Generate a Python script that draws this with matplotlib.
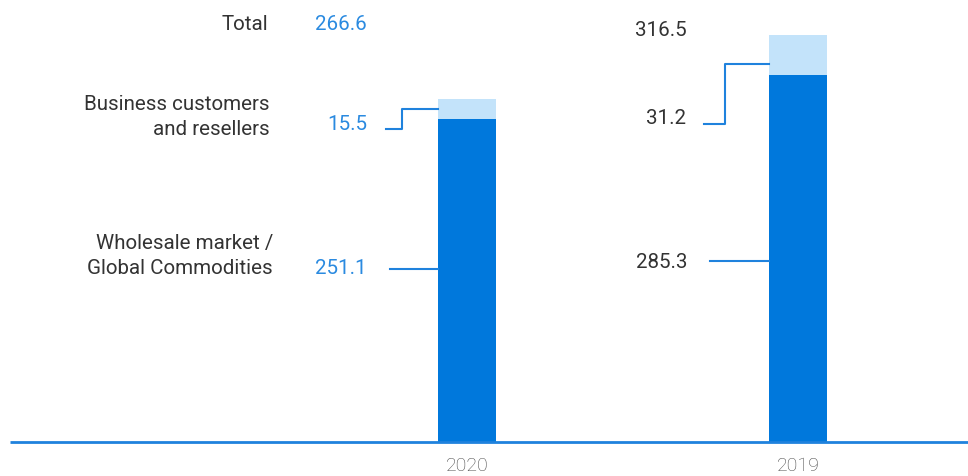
import matplotlib.pyplot as plt

# data
years = ["2020", "2019"]
wholesale = [251.1, 285.3]
business = [15.5, 31.2]
totals = [266.6, 316.5]
row_labels = ["Total", "Business customers\nand resellers", "Wholesale market /\nGlobal Commodities"]

dark = "#0078dc"
light = "#c3e3fa"
line_c = "#1f82dd"
blue_txt = "#2a8ae0"
grey_txt = "#333333"

W, H = 968, 477
fig = plt.figure(figsize=(W / 100, H / 100), dpi=100)
plt.rcParams['font.family'] = ['Roboto', 'DejaVu Sans']

# axes: baseline at y=443 px, 1.287 px per unit
base_px = 443
ppu = 1.287
ax = fig.add_axes([0, (H - base_px) / H, 1, base_px / H])
ax.set_ylim(0, base_px / ppu)
xu = 331.0  # px per category step
ax.set_xlim(-467 / xu, (W - 467) / xu)
ax.axis("off")

def px(x):
    return (x - 467) / xu

def py(y):
    return (base_px - y) / ppu

x = [0, 1]
bw = 58 / xu
ax.bar(x, wholesale, width=bw, color=dark, zorder=2)
ax.bar(x, business, bottom=wholesale, width=bw, color=light, zorder=2)

# baseline
ax.plot([px(10), px(968)], [0, 0], color=line_c, lw=2, solid_capstyle="butt", clip_on=False)

fs = 14.8

# row labels
ax.text(px(268), py(24), row_labels[0], ha="right", va="center", fontsize=fs, color=grey_txt)
ax.text(px(270), py(117), row_labels[1], ha="right", va="center", fontsize=fs, color=grey_txt, linespacing=1.4)
ax.text(px(273), py(256), row_labels[2], ha="right", va="center", fontsize=fs, color=grey_txt, linespacing=1.4)

# 2020 values (blue)
ax.text(px(367), py(24), f"{totals[0]:.1f}", ha="right", va="center", fontsize=fs, color=blue_txt)
ax.text(px(367), py(124), f"{business[0]:.1f}", ha="right", va="center", fontsize=fs, color=blue_txt)
ax.text(px(367), py(268), f"{wholesale[0]:.1f}", ha="right", va="center", fontsize=fs, color=blue_txt)

bar_l0 = -bw / 2
mid_b0 = wholesale[0] + business[0] / 2
ax.plot([px(386), px(402), px(402), bar_l0], [py(130), py(130), mid_b0, mid_b0], color=line_c, lw=1.5, zorder=3)
ax.plot([px(390), bar_l0], [py(270), py(270)], color=line_c, lw=1.5, zorder=3)

# 2019 values (dark)
ax.text(px(687), py(30), f"{totals[1]:.1f}", ha="right", va="center", fontsize=fs, color=grey_txt)
ax.text(px(686), py(118), f"{business[1]:.1f}", ha="right", va="center", fontsize=fs, color=grey_txt)
ax.text(px(687), py(262), f"{wholesale[1]:.1f}", ha="right", va="center", fontsize=fs, color=grey_txt)

bar_l1 = 1 - bw / 2
ax.plot([px(704), px(725), px(725), bar_l1], [py(125), py(125), py(65), py(65)], color=line_c, lw=1.5, zorder=3)
ax.plot([px(710), bar_l1], [py(262), py(262)], color=line_c, lw=1.5, zorder=3)

# year labels
for xi, yr in zip(x, years):
    ax.text(xi, py(466), yr, ha="center", va="center", fontsize=14, color="#4a4a4a", fontweight="light")

fig.savefig("out.png", dpi=100)
